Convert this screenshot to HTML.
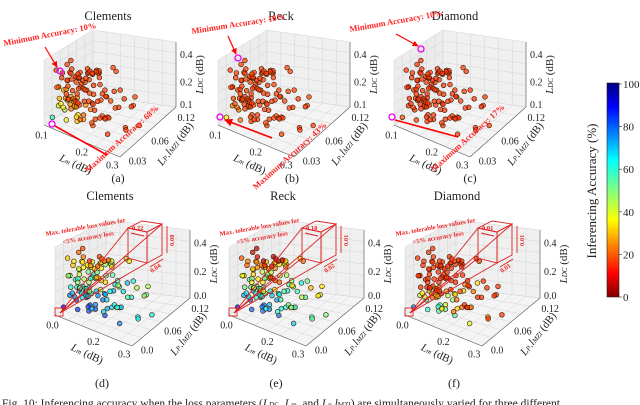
<!DOCTYPE html>
<html><head><meta charset="utf-8"><style>
body{margin:0;background:#fff;}
svg{display:block;font-family:"Liberation Serif",serif;}
svg text{font-family:"Liberation Serif",serif;}
.t{font-size:10px;fill:#222;}
.ann{font-size:8.5px;font-weight:bold;fill:#f22;}
.ann2{font-size:6.5px;font-weight:bold;fill:#e22;}
</style></head><body>
<svg id="fig" width="640" height="405" viewBox="0 0 640 405" xmlns="http://www.w3.org/2000/svg" font-family="Liberation Serif, serif">
<defs>
<linearGradient id="jet" x1="0" y1="1" x2="0" y2="0">
<stop offset="0" stop-color="#800000"/><stop offset="0.11" stop-color="#ff0000"/><stop offset="0.36" stop-color="#ffff00"/><stop offset="0.5" stop-color="#80ff80"/><stop offset="0.64" stop-color="#00ffff"/><stop offset="0.89" stop-color="#0000ff"/><stop offset="1" stop-color="#000080"/>
</linearGradient>
<marker id="ah" viewBox="0 0 10 10" refX="9" refY="5" markerWidth="5" markerHeight="5" orient="auto"><path d="M0,0L10,5L0,10z" fill="#f00"/></marker>
</defs>
<g id="panels"></g>
<g id="annot"></g>
<g>
<rect x="607" y="83" width="12" height="214" fill="url(#jet)" stroke="#222" stroke-width="0.6"/>
<g id="cbticks"></g>
<text transform="translate(596,191) rotate(-90)" text-anchor="middle" font-size="13" fill="#222">Inferencing Accuracy (%)</text>
</g>
<text x="2" y="407" font-size="11.5" fill="#222">Fig. 10: Inferencing accuracy when the loss parameters (<tspan font-style="italic">L</tspan><tspan font-size="7">DC</tspan>, <tspan font-style="italic">L</tspan><tspan font-size="7">m</tspan>, and <tspan font-style="italic">L</tspan><tspan font-size="7">p</tspan>.<tspan font-style="italic">l</tspan><tspan font-size="7">MZI</tspan>) are simultaneously varied for three different</text>
</svg>
<script>
const lmVals=[0.02,0.03,0.05,0.04,0.07,0.06,0.02,0.09,0.11,0.03,0.05,0.08,0.12,0.04,0.06,0.10,0.14,0.03,0.07,0.05,0.09,0.02,0.13,0.06,0.16,0.04,0.08,0.11,0.05,0.19,0.03,0.07,0.10,0.15,0.06,0.12,0.04,0.21,0.08,0.02,0.09,0.13,0.05,0.17,0.07,0.11,0.03,0.24,0.06,0.14,0.10,0.04,0.08,0.18,0.12,0.05,0.27,0.07,0.15,0.09,0.03,0.20,0.06,0.13,0.11,0.04,0.16,0.08,0.22,0.05,0.10,0.14,0.07,0.30,0.12,0.06,0.18,0.09,0.04,0.25,0.11,0.08,0.15,0.05,0.13,0.20,0.07,0.10,0.28,0.06,0.12,0.03,0.17,0.09,0.14,0.23,0.05,0.11,0.08,0.19,0.02,0.16,0.26,0.10,0.06,0.13,0.21,0.04,0.09,0.32,0.07,0.15,0.12,0.05,0.18,0.10,0.24,0.08,0.14,0.03];
const lpVals=[0.01,0.02,0.01,0.03,0.02,0.04,0.05,0.01,0.02,0.03,0.06,0.01,0.03,0.02,0.07,0.04,0.01,0.08,0.03,0.05,0.02,0.04,0.06,0.01,0.03,0.09,0.02,0.05,0.03,0.01,0.06,0.04,0.02,0.07,0.10,0.03,0.01,0.04,0.08,0.02,0.05,0.01,0.04,0.03,0.06,0.09,0.02,0.02,0.05,0.11,0.03,0.07,0.01,0.05,0.04,0.02,0.06,0.10,0.02,0.07,0.04,0.03,0.08,0.01,0.06,0.12,0.02,0.04,0.05,0.03,0.09,0.04,0.02,0.03,0.07,0.05,0.01,0.03,0.06,0.08,0.02,0.06,0.04,0.11,0.03,0.07,0.05,0.01,0.04,0.09,0.02,0.05,0.06,0.03,0.10,0.02,0.04,0.08,0.13,0.03,0.05,0.01,0.07,0.06,0.02,0.04,0.03,0.07,0.09,0.05,0.03,0.08,0.01,0.04,0.02,0.12,0.06,0.03,0.05,0.02];
const ldcVals=[0.05,0.12,0.20,0.08,0.28,0.15,0.10,0.22,0.06,0.33,0.18,0.25,0.09,0.14,0.21,0.30,0.11,0.17,0.38,0.07,0.26,0.19,0.13,0.35,0.04,0.23,0.16,0.29,0.40,0.12,0.08,0.31,0.20,0.15,0.24,0.06,0.27,0.10,0.18,0.36,0.13,0.22,0.32,0.09,0.19,0.14,0.25,0.05,0.28,0.11,0.34,0.17,0.07,0.21,0.39,0.12,0.16,0.24,0.30,0.08,0.20,0.13,0.26,0.42,0.10,0.18,0.23,0.05,0.15,0.29,0.11,0.37,0.19,0.09,0.27,0.14,0.32,0.06,0.22,0.17,0.25,0.08,0.12,0.20,0.35,0.10,0.28,0.16,0.07,0.23,0.18,0.30,0.04,0.13,0.26,0.15,0.41,0.09,0.21,0.11,0.24,0.33,0.14,0.06,0.19,0.38,0.12,0.27,0.17,0.08,0.31,0.10,0.22,0.16,0.29,0.07,0.20,0.13,0.36,0.25];
const panelTitles=["Clements","Reck","Diamond","Clements","Reck","Diamond"];
const panelLetters=["(a)","(b)","(c)","(d)","(e)","(f)"];
const accLow=[18,18,17,5,5,17];
const accHigh=[75,50,24,100,100,100];
const accSensLm=[250,200,60,60,80,150];
const accSensLp=[300,250,60,100,120,200];
const accSensDc=[150,120,30,180,210,380];
const topLmTicks=["0.1","0.2","0.3"], botLmTicks=["0.0","0.2","0.3"];
const topLpTicks=["0.03","0.06","0.12"], botLpTicks=["0.0","0.06","0.12"];
const topDcTicks=["0.1","0.2","0.4"], botDcTicks=["0.0","0.2","0.4"];
const cbTicks=[0,20,40,60,80,100];

const NS="http://www.w3.org/2000/svg";
function mk(tag,attrs,parent){const e=document.createElementNS(NS,tag);for(const k in attrs)e.setAttribute(k,attrs[k]);if(parent)parent.appendChild(e);return e;}
function jet(t){t=Math.max(0,Math.min(1,t));const c=x=>Math.round(255*Math.max(0,Math.min(1,1.5-Math.abs(4*t-x))));return `rgb(${c(3)},${c(2)},${c(1)})`;}
const geoTop={A:[44,125],B:[120,157],C:[176,107],D:[93,95],H:65};
const geoBot={A:[55,315],B:[132,346],C:[190,298],D:[106,288],H:68};
const offX=[0,174,350];
function proj(g,dx,u,v,w){const x=g.A[0]*(1-u)*(1-v)+g.B[0]*u*(1-v)+g.C[0]*u*v+g.D[0]*(1-u)*v;const y=g.A[1]*(1-u)*(1-v)+g.B[1]*u*(1-v)+g.C[1]*u*v+g.D[1]*(1-u)*v;return [x+dx,y-g.H*w];}
const root=document.getElementById('panels');
for(let p=0;p<6;p++){
  const top=p<3, g=top?geoTop:geoBot, dx=offX[p%3];
  const grp=mk('g',{},root);
  
  
  const P=(u,v,w)=>proj(g,dx,u,v,w);
  const poly=pts=>pts.map(q=>q.join(',')).join(' ');
  mk('polygon',{points:poly([P(0,0,0),P(1,0,0),P(1,1,0),P(0,1,0)]),fill:'#f4f4f4',stroke:'none'},grp);
  mk('polygon',{points:poly([P(0,0,0),P(0,1,0),P(0,1,1),P(0,0,1)]),fill:'#ececec',stroke:'none'},grp);
  mk('polygon',{points:poly([P(0,1,0),P(1,1,0),P(1,1,1),P(0,1,1)]),fill:'#f0f0f0',stroke:'none'},grp);
  for(let i=0;i<=6;i++){const f=i/6;
    let a=P(f,0,0),b=P(f,1,0),c=P(f,1,1);mk('polyline',{points:poly([a,b,c]),fill:'none',stroke:'#d4d4d4','stroke-width':0.5},grp);
    a=P(0,f,0);b=P(1,f,0);mk('line',{x1:a[0],y1:a[1],x2:b[0],y2:b[1],stroke:'#d4d4d4','stroke-width':0.5},grp);
    a=P(0,f,0);b=P(0,f,1);mk('line',{x1:a[0],y1:a[1],x2:b[0],y2:b[1],stroke:'#d4d4d4','stroke-width':0.5},grp);
    a=P(0,0,f);b=P(0,1,f);c=P(1,1,f);mk('polyline',{points:poly([a,b,c]),fill:'none',stroke:'#d4d4d4','stroke-width':0.5},grp);
  }
  let a=P(0,0,0),b=P(1,0,0);mk('line',{x1:a[0],y1:a[1],x2:b[0],y2:b[1],stroke:'#555','stroke-width':0.6},grp);
  a=P(1,0,0);b=P(1,1,0);mk('line',{x1:a[0],y1:a[1],x2:b[0],y2:b[1],stroke:'#555','stroke-width':0.6},grp);
  a=P(1,1,0);b=P(1,1,1);mk('line',{x1:a[0],y1:a[1],x2:b[0],y2:b[1],stroke:'#555','stroke-width':0.6},grp);
  const idx=lmVals.map((_,i)=>i).sort((i,j)=>(lpVals[j]-lpVals[i])||(lmVals[i]-lmVals[j]));
  for(const i of idx){
    const u=lmVals[i]/0.33,v=lpVals[i]/0.13,w=ldcVals[i]/0.45;
    let acc=accHigh[p]-accSensLm[p]*lmVals[i]-accSensLp[p]*lpVals[i]-accSensDc[p]*ldcVals[i];
    acc=Math.max(accLow[p],Math.min(100,acc));
    const q=P(u,v,w);
    const c=mk('circle',{cx:q[0].toFixed(1),cy:q[1].toFixed(1),r:2.4,fill:jet(1-acc/100),'fill-opacity':0.7,stroke:'#3a1a00','stroke-width':0.6},grp);
    
    
  }
  const lmT=top?topLmTicks:botLmTicks, lpT=top?topLpTicks:botLpTicks, dcT=top?topDcTicks:botDcTicks;
  const fr=[0.02,0.55,0.95], frLp=[0.05,0.45,0.92], frDc=[0.03,0.38,0.8];
  lmT.forEach((s,k)=>{const q=P(fr[k],0,0);const t=mk('text',{x:q[0]-4,y:q[1]+13,class:'t','text-anchor':'middle'},grp);t.textContent=s;});
  lpT.forEach((s,k)=>{const q=P(1,frLp[k],0);const t=mk('text',{x:q[0]+6,y:q[1]+10,class:'t'},grp);t.textContent=s;});
  dcT.forEach((s,k)=>{const q=P(1,1,frDc[k]);const t=mk('text',{x:q[0]+4,y:q[1]+3,class:'t'},grp);t.textContent=s;});
  let q=P(0.45,0,0);
  let t=mk('text',{transform:`translate(${q[0]-4},${q[1]+28}) rotate(25)`,'font-size':11,fill:'#222','text-anchor':'middle'},grp);
  t.innerHTML='<tspan font-style="italic">L</tspan><tspan font-size="7" font-style="italic">m</tspan> (dB)';
  
  q=P(1,0.5,0);
  t=mk('text',{transform:`translate(${q[0]+30},${q[1]+14}) rotate(-52)`,'font-size':11,fill:'#222','text-anchor':'middle'},grp);
  t.innerHTML='<tspan font-style="italic">L</tspan><tspan font-size="7" font-style="italic">P</tspan>.<tspan font-style="italic">l</tspan><tspan font-size="7" font-style="italic">MZI</tspan> (dB)';
  
  q=P(1,1,0.5);
  t=mk('text',{transform:`translate(${q[0]+27},${q[1]}) rotate(-90)`,'font-size':11,fill:'#222','text-anchor':'middle'},grp);
  t.innerHTML='<tspan font-style="italic">L</tspan><tspan font-size="7" font-style="italic">DC</tspan> (dB)';
  
  const tx=[108,281,455][p%3];
  t=mk('text',{x:tx+(top?0:2),y:top?20:200,'font-size':12.5,fill:'#222','text-anchor':'middle'},grp);t.textContent=panelTitles[p];
  
  t=mk('text',{x:[118,292,470][p%3]-(top?0:16),y:top?182:387,'font-size':12,fill:'#222','text-anchor':'middle'},grp);t.textContent=panelLetters[p];
  
}
const cbg=document.getElementById('cbticks');
cbTicks.forEach(v=>{const y=297-v/100*213;mk('line',{x1:619,y1:y,x2:622,y2:y,stroke:'#222','stroke-width':0.6},cbg);const t=mk('text',{x:623,y:y+4,'font-size':11,fill:'#222'},cbg);t.textContent=v;});
const an=document.getElementById('annot');
an.innerHTML=`
<g>
<text class="ann" transform="translate(4,46) rotate(-11)">Minimum Accuracy: 10%</text>
<line x1="45" y1="47" x2="57" y2="67" stroke="#f00" stroke-width="1.2" marker-end="url(#ah)"/>
<circle cx="60" cy="71" r="3" fill="none" stroke="#e0e" stroke-width="1.3"/><circle cx="52" cy="124" r="3" fill="none" stroke="#e0e" stroke-width="1.3"/>
<line x1="55" y1="126" x2="107" y2="155" stroke="#f00" stroke-width="1.6"/>
<text class="ann" transform="translate(88,173) rotate(-42)">Maximum Accuracy: 68%</text></g>
<g>
<text class="ann" transform="translate(192,34) rotate(-9)">Minimum Accuracy: 10%</text>
<line x1="228" y1="36" x2="236" y2="54" stroke="#f00" stroke-width="1.2" marker-end="url(#ah)"/>
<circle cx="238" cy="58" r="3" fill="none" stroke="#e0e" stroke-width="1.3"/><circle cx="220" cy="117" r="3" fill="none" stroke="#e0e" stroke-width="1.3"/>
<line x1="272" y1="138" x2="225" y2="120" stroke="#f00" stroke-width="1.6" marker-end="url(#ah)"/>
<text class="ann" transform="translate(256,190) rotate(-42)">Maximum Accuracy: 43%</text></g>
<g>
<text class="ann" transform="translate(350,32) rotate(-10)">Minimum Accuracy: 10%</text>
<line x1="396" y1="34" x2="418" y2="46" stroke="#f00" stroke-width="1.2" marker-end="url(#ah)"/>
<circle cx="421" cy="49" r="3" fill="none" stroke="#e0e" stroke-width="1.3"/><circle cx="392" cy="117" r="3" fill="none" stroke="#e0e" stroke-width="1.3"/>
<line x1="395" y1="120" x2="458" y2="137" stroke="#f00" stroke-width="1.6"/>
<text class="ann" transform="translate(434,172) rotate(-42)">Maximum Accuracy: 17%</text></g>`;
const boxVals=[["0.22","0.08","0.04"],["0.18","0.01","0.02"],["0.01","0.01","0.01"]];
[0,1,2].forEach(k=>{
 const dx=offX[k];
 const g=mk('g',{transform:`translate(${dx},0)`},an);
 
 
 g.innerHTML=`<text class="ann2" transform="translate(46,236) rotate(-10)">Max. tolerable loss values for</text>
<text class="ann2" transform="translate(63,244) rotate(-10)">&lt;5% accuracy loss</text>
<g fill="none" stroke="#d22" stroke-width="0.9">
<polygon points="128,228 147,232 147,263 128,258"/><polygon points="128,228 142,221 162,224 147,232"/><polygon points="147,232 162,224 162,255 147,263"/>
<line x1="60" y1="313" x2="128" y2="228"/><line x1="60" y1="313" x2="162" y2="224"/><line x1="60" y1="313" x2="147" y2="263"/><line x1="60" y1="313" x2="128" y2="258"/>
<rect x="55" y="308" width="8" height="8"/>
<line x1="131" y1="233" x2="144" y2="236"/><line x1="167" y1="226" x2="167" y2="253"/><line x1="150" y1="267" x2="163" y2="259"/></g>
<text class="ann2" x="132" y="230">${boxVals[k][0]}</text>
<text class="ann2" transform="translate(174,246) rotate(-90)">${boxVals[k][1]}</text>
<text class="ann2" transform="translate(152,273) rotate(-35)">${boxVals[k][2]}</text>`;
});
</script>
</body></html>
